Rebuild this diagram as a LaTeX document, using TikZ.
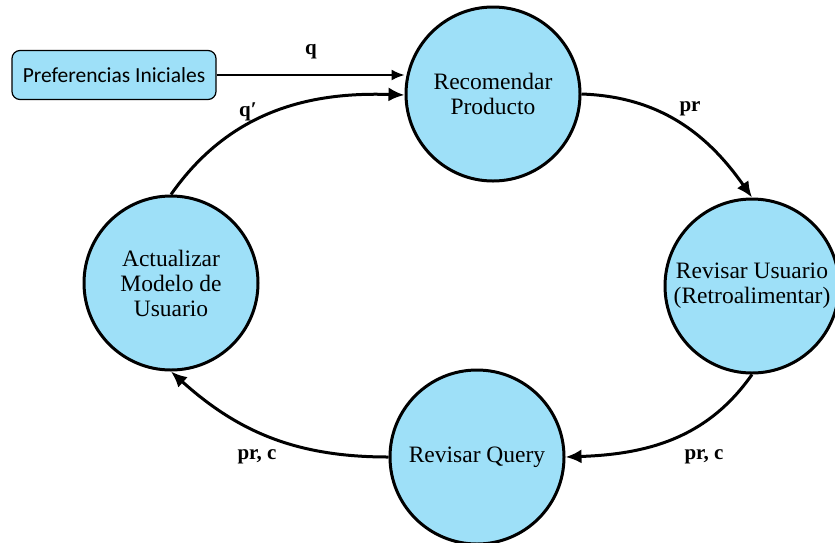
\documentclass[tikz,border=0pt]{standalone}
\usepackage{fontspec}
\setmainfont{Liberation Serif}
\newfontfamily\boxfont{Carlito}
\usetikzlibrary{arrows.meta}
\definecolor{cyanfill}{HTML}{9EE0F8}
\tikzset{
  state/.style={circle, draw=black, line width=3pt, fill=cyanfill,
    minimum size=174pt, inner sep=0pt, align=center,
    font=\fontsize{23.5}{25}\selectfont},
  startbox/.style={rectangle, rounded corners=8pt, draw=black, line width=1.2pt,
    fill=cyanfill, minimum width=204pt, minimum height=49pt,
    font=\boxfont\fontsize{21.5}{24}\selectfont},
  flow/.style={line width=3pt, -{Latex[length=16pt,width=14pt]}},
  lbl/.style={font=\bfseries\fontsize{21}{24}\selectfont}
}
\begin{document}
\begin{tikzpicture}[x=1pt,y=-1pt]
  \useasboundingbox (0,0) rectangle (835,542);
  % states of the feedback loop
  \node[state] (rec) at (493,94)  {Recomendar\\Producto};
  \node[state] (rev) at (752,286) {Revisar Usuario\\(Retroalimentar)};
  \node[state] (qry) at (477,457) {Revisar Query};
  \node[state] (act) at (171,283) {Actualizar\\Modelo de\\Usuario};
  \node[startbox] (pref) at (114,75) {Preferencias Iniciales};
  % connectors
  \draw[line width=1.6pt, -{Latex[length=13pt,width=11pt]}] (pref.east) -- (rec.west |- pref.east);
  \node[lbl] (lq) at (311,52) {q};
  \draw[flow] (act.north) to[out=55,in=178] (rec.west |- 0,95);
  \node[lbl] (lqp) at (248,112) {q′};
  \draw[flow] (rec.east) to[out=-2,in=125] (rev.north);
  \node[lbl] (lp1) at (690,109) {pr};
  \draw[flow] (rev.south) to[out=-125,in=2] (qry.east);
  \node[lbl] (lp2) at (704,457) {pr, c};
  \draw[flow] (qry.west) to[out=180,in=-42] (act.south);
  \node[lbl] (lp3) at (257,457) {pr, c};
\end{tikzpicture}
\end{document}
